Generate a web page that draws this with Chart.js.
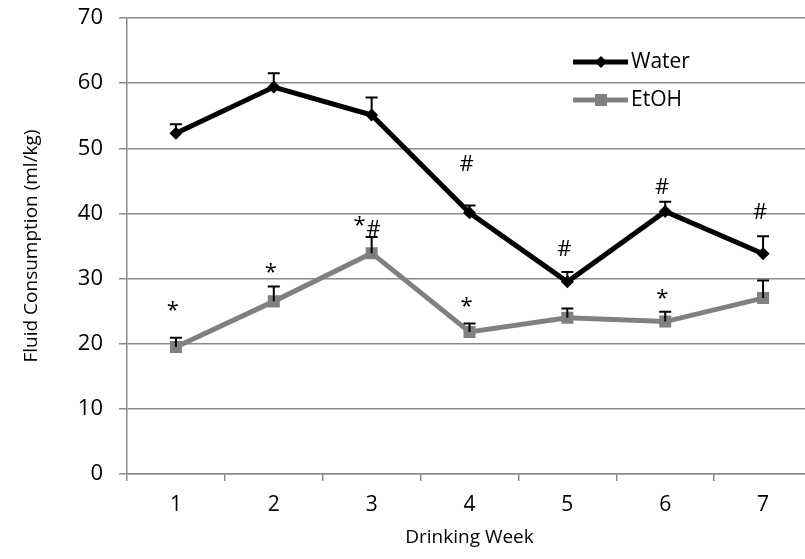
<!DOCTYPE html>
<html>
<head>
<meta charset="utf-8">
<script src="https://cdn.jsdelivr.net/npm/chart.js@4.4.1/dist/chart.umd.min.js"></script>
<style>
  html, body { margin: 0; padding: 0; overflow: hidden; background: #fff; }
  #wrap { width: 830px; height: 559px; }
</style>
</head>
<body>
<div id="wrap"><canvas id="chart"></canvas></div>
<script>
const weeks = ['1', '2', '3', '4', '5', '6', '7'];
const seriesNames = ['Water', 'EtOH'];
const water = [52.3, 59.4, 55.1, 40.1, 29.5, 40.3, 33.8];
const waterErr = [1.4, 2.1, 2.7, 1.1, 1.5, 1.5, 2.7];
const etoh = [19.5, 26.5, 33.9, 21.8, 24.0, 23.4, 27.0];
const etohErr = [1.4, 2.3, 2.5, 1.3, 1.4, 1.5, 2.7];
const yMin = 0, yMax = 70, yStep = 10;

// significance marks: [week index, y value, symbol]
const marks = [
  [0, 25.6, '*'],
  [1, 31.5, '*'],
  [2, 38.7, '*'],
  [2, 37.5, '#'],
  [3, 26.3, '*'],
  [3, 47.4, '#'],
  [4, 34.5, '#'],
  [5, 43.9, '#'],
  [5, 27.5, '*'],
  [6, 40.1, '#'],
];

const FONT = "'Open Sans', sans-serif";
const gridGray = '#8a8a8a';

const errorBars = {
  id: 'errorBars',
  afterDatasetsDraw(chart) {
    const { ctx, scales: { x, y } } = chart;
    const errs = [waterErr, etohErr];
    ctx.save();
    ctx.strokeStyle = '#000';
    ctx.lineWidth = 2;
    chart.data.datasets.forEach((ds, i) => {
      ds.data.forEach((v, j) => {
        const px = x.getPixelForValue(j);
        const y0 = y.getPixelForValue(v);
        const y1 = y.getPixelForValue(v + errs[i][j]);
        ctx.beginPath();
        ctx.moveTo(px, y0);
        ctx.lineTo(px, y1);
        ctx.moveTo(px - 6, y1);
        ctx.lineTo(px + 6, y1);
        ctx.stroke();
      });
    });
    ctx.restore();
  }
};

const sigMarks = {
  id: 'sigMarks',
  afterDraw(chart) {
    const { ctx, scales: { x, y } } = chart;
    ctx.save();
    ctx.fillStyle = '#000';
    ctx.font = '22px ' + FONT;
    ctx.textAlign = 'center';
    ctx.textBaseline = 'middle';
    marks.forEach(([i, v, s]) => {
      let dx = -3;
      if (i === 2) dx = s === '*' ? -12 : 2;
      ctx.fillText(s, x.getPixelForValue(i) + dx, y.getPixelForValue(v) + (s === '*' ? 4 : 0));
    });
    ctx.restore();
  }
};

const boxLegend = {
  id: 'boxLegend',
  afterDraw(chart) {
    const { ctx } = chart;
    ctx.save();
    chart.data.datasets.forEach((ds, i) => {
      const yy = 62 + i * 38;
      ctx.strokeStyle = ds.borderColor;
      ctx.lineWidth = 5;
      ctx.beginPath();
      ctx.moveTo(573, yy);
      ctx.lineTo(628, yy);
      ctx.stroke();
      ctx.fillStyle = ds.borderColor;
      if (ds.pointStyle === 'rect') {
        ctx.fillRect(595, yy - 6, 12, 12);
      } else {
        ctx.beginPath();
        ctx.moveTo(601, yy - 6);
        ctx.lineTo(607, yy);
        ctx.lineTo(601, yy + 6);
        ctx.lineTo(595, yy);
        ctx.closePath();
        ctx.fill();
      }
      ctx.fillStyle = '#000';
      ctx.font = '21px ' + FONT;
      ctx.textAlign = 'left';
      ctx.textBaseline = 'middle';
      ctx.fillText(ds.label, 631, yy);
    });
    ctx.restore();
  }
};

new Chart(document.getElementById('chart'), {
  type: 'line',
  data: {
    labels: weeks,
    datasets: [
      {
        label: seriesNames[0],
        data: water,
        borderColor: '#000',
        backgroundColor: '#000',
        borderWidth: 5,
        pointStyle: 'rectRot',
        pointRadius: 6.5,
        pointBorderWidth: 0,
        tension: 0,
      },
      {
        label: seriesNames[1],
        data: etoh,
        borderColor: '#808080',
        backgroundColor: '#808080',
        borderWidth: 5,
        pointStyle: 'rect',
        pointRadius: 8.5,
        pointBorderWidth: 0,
        tension: 0,
      },
    ],
  },
  options: {
    responsive: true,
    maintainAspectRatio: false,
    animation: false,
    layout: { padding: { left: 0, top: 18, right: 18, bottom: 0 } },
    plugins: {
      legend: { display: false },
      tooltip: { enabled: false },
    },
    scales: {
      x: {
        offset: true,
        grid: { offset: true, drawOnChartArea: false, drawTicks: true, tickLength: 7, color: gridGray, lineWidth: 1.5 },
        border: { display: true, color: gridGray, width: 1.5 },
        ticks: { color: '#000', font: { family: FONT, size: 21 }, padding: 11, maxRotation: 0 },
        title: { display: true, text: 'Drinking Week', color: '#000', font: { family: FONT, size: 19 }, padding: { top: 0, bottom: 10 } },
        afterFit: s => { s.height = 85; s.paddingLeft = 0; s.paddingRight = 0; },
      },
      y: {
        min: yMin,
        max: yMax,
        ticks: { stepSize: yStep, color: '#000', font: { family: FONT, size: 22 }, padding: 16 },
        grid: { color: gridGray, lineWidth: 1.5, tickLength: 8 },
        border: { display: true, color: gridGray, width: 1.5 },
        title: { display: true, text: 'Fluid Consumption (ml/kg)', color: '#000', font: { family: FONT, size: 19 }, padding: { top: 20, bottom: 0 } },
        afterFit: s => { s.width = 127; s.paddingTop = 0; s.paddingBottom = 0; },
      },
    },
  },
  plugins: [errorBars, sigMarks, boxLegend],
});
</script>
</body>
</html>
